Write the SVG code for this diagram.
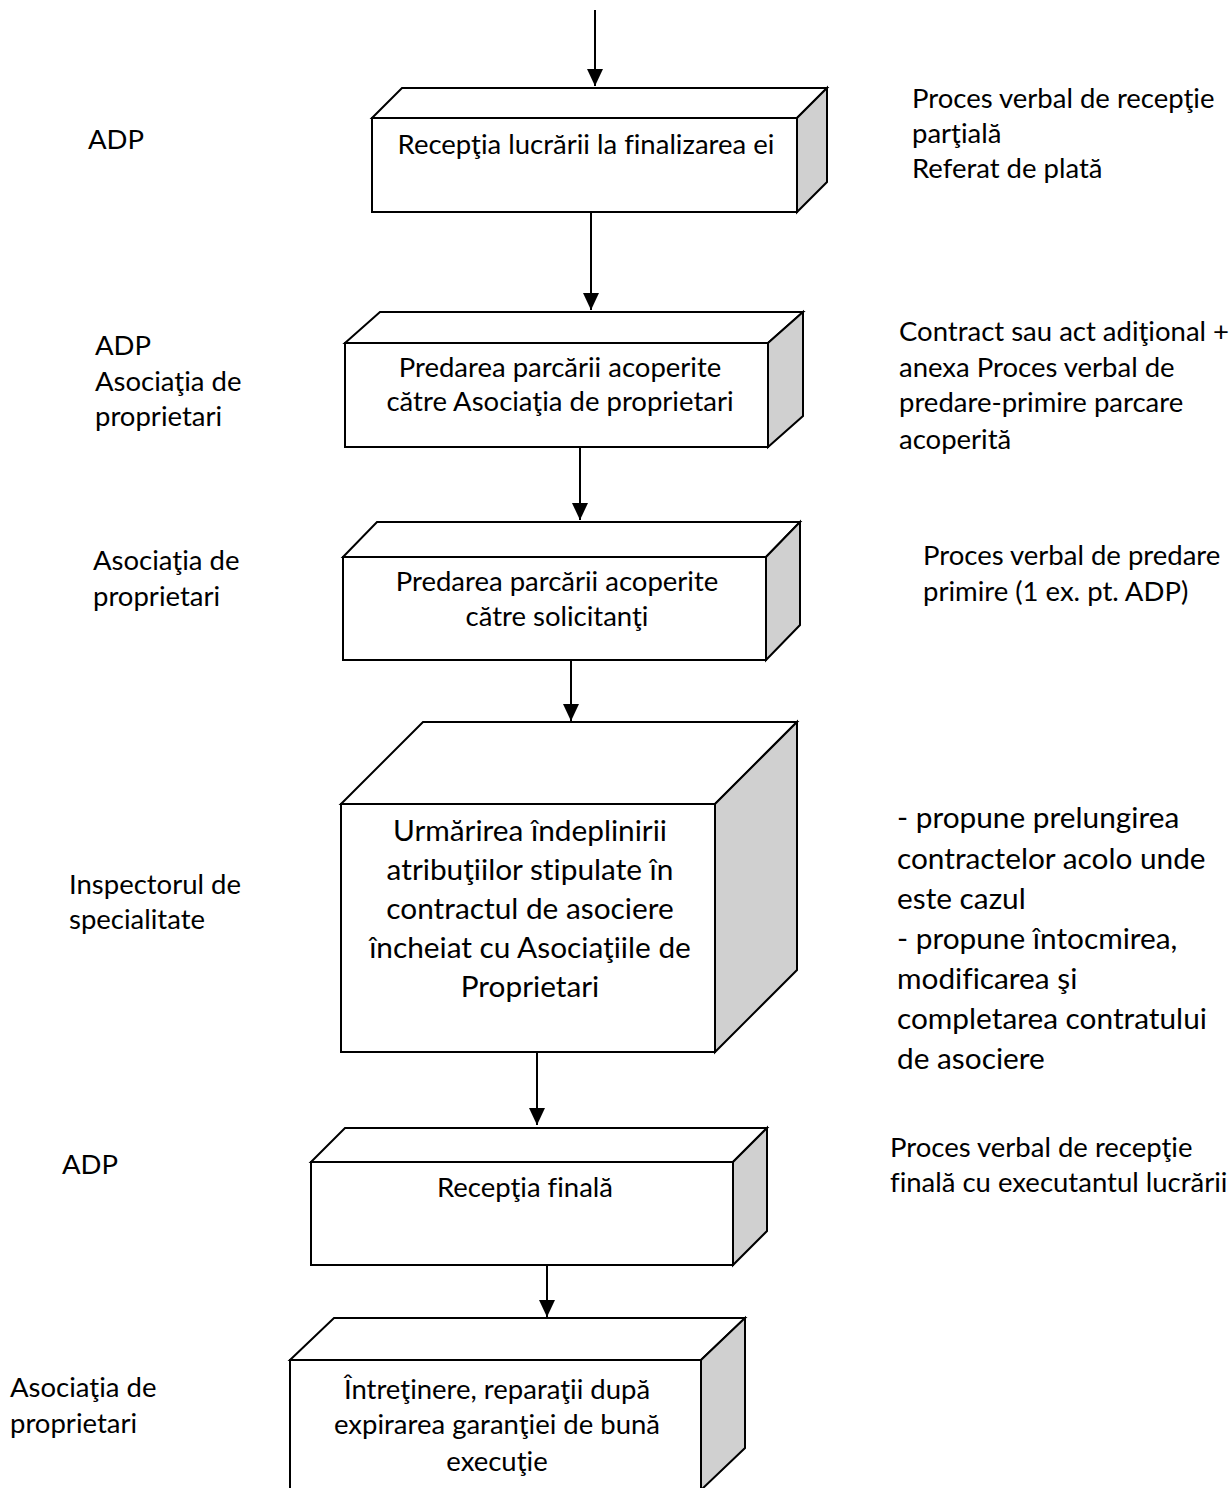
<svg xmlns="http://www.w3.org/2000/svg" width="1231" height="1488" viewBox="0 0 1231 1488">
<style>
.face{fill:#ffffff;stroke:#000000;stroke-width:2;stroke-linejoin:miter}
.side{fill:#d0d0d0;stroke:#000000;stroke-width:2;stroke-linejoin:miter}
.conn{stroke:#000000;stroke-width:2;fill:none}
text{font-family:Lato,"Liberation Sans",sans-serif;fill:#000000;font-variant-ligatures:none}
.t{font-size:27.5px}
.tb{font-size:29.8px}
.c{text-anchor:middle}
</style>
<defs>
<marker id="arr" viewBox="0 0 17 16" refX="17" refY="8" markerWidth="17" markerHeight="16" markerUnits="userSpaceOnUse" orient="auto">
<path d="M0,0 L17,8 L0,16 z" fill="#000000"/>
</marker>
</defs>

<g id="connectors">
<line class="conn" x1="595" y1="10" x2="595" y2="86" marker-end="url(#arr)"/>
<line class="conn" x1="591" y1="212" x2="591" y2="310" marker-end="url(#arr)"/>
<line class="conn" x1="580" y1="447" x2="580" y2="520" marker-end="url(#arr)"/>
<line class="conn" x1="571" y1="660" x2="571" y2="721" marker-end="url(#arr)"/>
<line class="conn" x1="537" y1="1052" x2="537" y2="1125" marker-end="url(#arr)"/>
<line class="conn" x1="547" y1="1265" x2="547" y2="1317" marker-end="url(#arr)"/>
</g>

<g id="node1">
<polygon class="face" points="372,118 402,88 827,88 797,118"/>
<polygon class="side" points="797,118 827,88 827,182 797,212"/>
<rect class="face" x="372" y="118" width="425" height="94"/>
<text class="t c" x="586" y="154">Recepţia lucrării la finalizarea ei</text>
</g>

<g id="node2">
<polygon class="face" points="345,343 380,312 803,312 768,343"/>
<polygon class="side" points="768,343 803,312 803,416 768,447"/>
<rect class="face" x="345" y="343" width="423" height="104"/>
<text class="t c" x="560" y="377">Predarea parcării acoperite</text>
<text class="t c" x="560" y="411">către Asociaţia de proprietari</text>
</g>

<g id="node3">
<polygon class="face" points="343,557 377,522 800,522 766,557"/>
<polygon class="side" points="766,557 800,522 800,625 766,660"/>
<rect class="face" x="343" y="557" width="423" height="103"/>
<text class="t c" x="557" y="591">Predarea parcării acoperite</text>
<text class="t c" x="557" y="626">către solicitanţi</text>
</g>

<g id="node4">
<polygon class="face" points="341,804 423,722 797,722 715,804"/>
<polygon class="side" points="715,804 797,722 797,970 715,1052"/>
<rect class="face" x="341" y="804" width="374" height="248"/>
<text class="tb c" x="530" y="841">Urmărirea îndeplinirii</text>
<text class="tb c" x="530" y="880">atribuţiilor stipulate în</text>
<text class="tb c" x="530" y="919">contractul de asociere</text>
<text class="tb c" x="530" y="958">încheiat cu Asociaţiile de</text>
<text class="tb c" x="530" y="997">Proprietari</text>
</g>

<g id="node5">
<polygon class="face" points="311,1162 345,1128 767,1128 733,1162"/>
<polygon class="side" points="733,1162 767,1128 767,1231 733,1265"/>
<rect class="face" x="311" y="1162" width="422" height="103"/>
<text class="t c" x="525" y="1197">Recepţia finală</text>
</g>

<g id="node6">
<polygon class="face" points="290,1360 334,1318 745,1318 701,1360"/>
<polygon class="side" points="701,1360 745,1318 745,1448 701,1490"/>
<rect class="face" x="290" y="1360" width="411" height="132"/>
<text class="t c" x="497" y="1399">Întreţinere, reparaţii după</text>
<text class="t c" x="497" y="1434">expirarea garanţiei de bună</text>
<text class="t c" x="497" y="1471">execuţie</text>
</g>

<g id="labels-left">
<text class="t" x="88" y="149">ADP</text>
<text class="t" x="95" y="355">ADP</text>
<text class="t" x="95" y="391">Asociaţia de</text>
<text class="t" x="95" y="426">proprietari</text>
<text class="t" x="93" y="570">Asociaţia de</text>
<text class="t" x="93" y="606">proprietari</text>
<text class="t" x="69" y="894">Inspectorul de</text>
<text class="t" x="69" y="929">specialitate</text>
<text class="t" x="62" y="1174">ADP</text>
<text class="t" x="10" y="1397">Asociaţia de</text>
<text class="t" x="10" y="1433">proprietari</text>
</g>

<g id="labels-right">
<text class="t" x="912" y="108">Proces verbal de recepţie</text>
<text class="t" x="912" y="143">parţială</text>
<text class="t" x="912" y="178">Referat de plată</text>
<text class="t" x="899" y="341">Contract sau act adiţional +</text>
<text class="t" x="899" y="377">anexa Proces verbal de</text>
<text class="t" x="899" y="412">predare-primire parcare</text>
<text class="t" x="899" y="449">acoperită</text>
<text class="t" x="923" y="565">Proces verbal de predare</text>
<text class="t" x="923" y="601">primire (1 ex. pt. ADP)</text>
<text class="tb" x="897" y="828">- propune prelungirea</text>
<text class="tb" x="897" y="869">contractelor acolo unde</text>
<text class="tb" x="897" y="909">este cazul</text>
<text class="tb" x="897" y="949">- propune întocmirea,</text>
<text class="tb" x="897" y="989">modificarea şi</text>
<text class="tb" x="897" y="1029">completarea contratului</text>
<text class="tb" x="897" y="1069">de asociere</text>
<text class="t" x="890" y="1157">Proces verbal de recepţie</text>
<text class="t" x="890" y="1192">finală cu executantul lucrării</text>
</g>
</svg>
